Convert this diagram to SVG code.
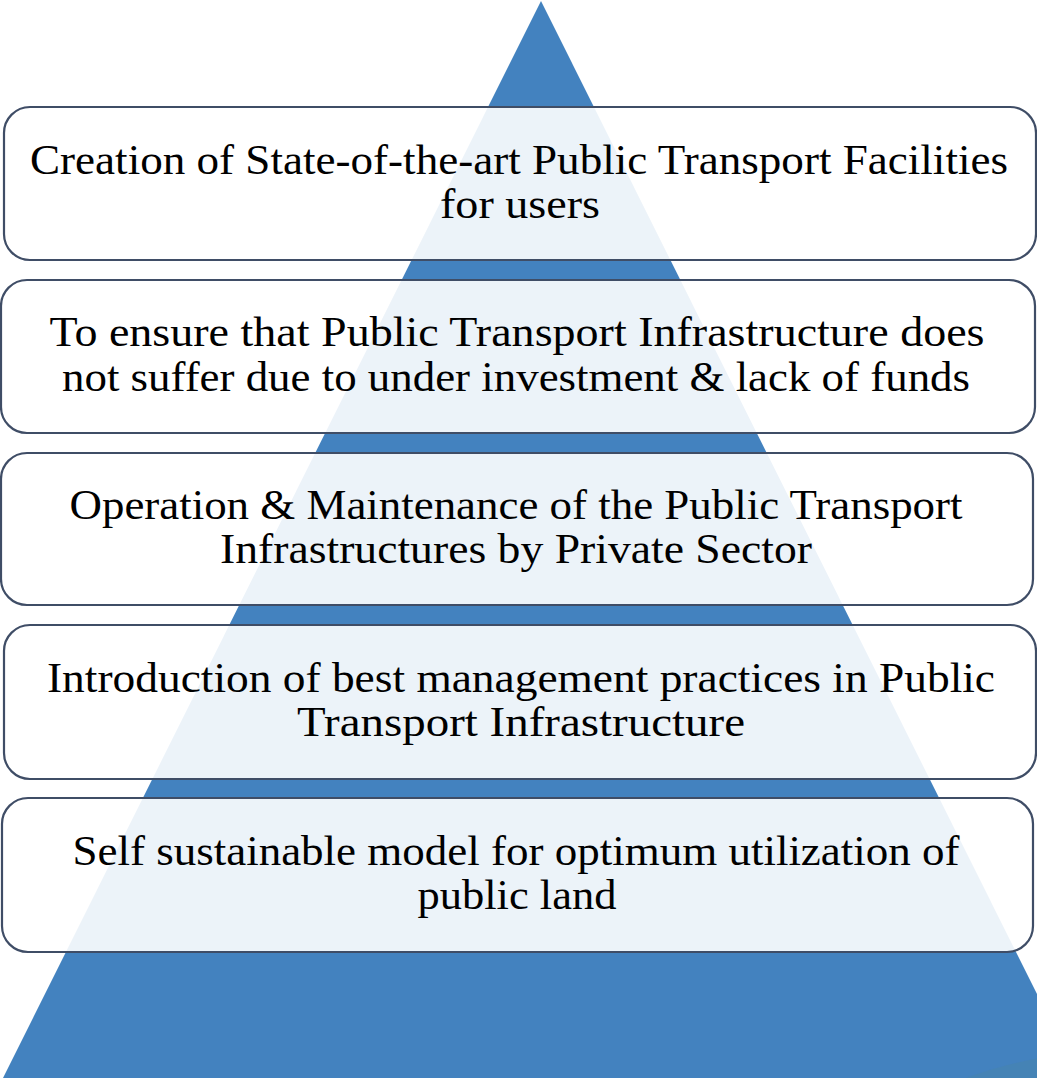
<svg xmlns="http://www.w3.org/2000/svg" width="1037" height="1081" viewBox="0 0 1037 1081">
  <style>
    .box { fill: #ffffff; fill-opacity: 0.9; stroke: #3f4d66; stroke-width: 2.2; }
    .lbl { font-family: "Liberation Serif", "DejaVu Serif", serif; font-size: 42px; fill: #000000; text-anchor: middle; }
  </style>
  <defs>
    <clipPath id="triClip">
      <polygon points="541,1 3,1078 1079,1078"/>
    </clipPath>
  </defs>
  <rect x="0" y="0" width="1037" height="1081" fill="#ffffff"/>
  <g id="pyramid">
    <polygon points="541,1 3,1078 1079,1078" fill="#4382bf"/>
    <g clip-path="url(#triClip)">
      <ellipse cx="1150" cy="1180" rx="290" ry="132" fill="#4a85a8" fill-opacity="0.45"/>
    </g>
  </g>
  <g id="connectors"></g>
  <g id="node1">
    <rect class="box" x="4" y="107" width="1032" height="153" rx="26"/>
    <text class="lbl" x="519" y="174" textLength="978" lengthAdjust="spacingAndGlyphs">Creation of State-of-the-art Public Transport Facilities</text>
    <text class="lbl" x="520" y="218" textLength="160" lengthAdjust="spacingAndGlyphs">for users</text>
  </g>
  <g id="node2">
    <rect class="box" x="1" y="280" width="1034" height="153" rx="26"/>
    <text class="lbl" x="517" y="346" textLength="935" lengthAdjust="spacingAndGlyphs">To ensure that Public Transport Infrastructure does</text>
    <text class="lbl" x="516" y="391" textLength="908" lengthAdjust="spacingAndGlyphs">not suffer due to under investment &amp; lack of funds</text>
  </g>
  <g id="node3">
    <rect class="box" x="1" y="453" width="1032" height="152" rx="26"/>
    <text class="lbl" x="516" y="519" textLength="893" lengthAdjust="spacingAndGlyphs">Operation &amp; Maintenance of the Public Transport</text>
    <text class="lbl" x="516" y="563" textLength="592" lengthAdjust="spacingAndGlyphs">Infrastructures by Private Sector</text>
  </g>
  <g id="node4">
    <rect class="box" x="4" y="625" width="1032" height="154" rx="26"/>
    <text class="lbl" x="521" y="692" textLength="948" lengthAdjust="spacingAndGlyphs">Introduction of best management practices in Public</text>
    <text class="lbl" x="521" y="736" textLength="448" lengthAdjust="spacingAndGlyphs">Transport Infrastructure</text>
  </g>
  <g id="node5">
    <rect class="box" x="2" y="798" width="1031" height="154" rx="26"/>
    <text class="lbl" x="516" y="865" textLength="887" lengthAdjust="spacingAndGlyphs">Self sustainable model for optimum utilization of</text>
    <text class="lbl" x="517" y="909" textLength="199" lengthAdjust="spacingAndGlyphs">public land</text>
  </g>
</svg>
